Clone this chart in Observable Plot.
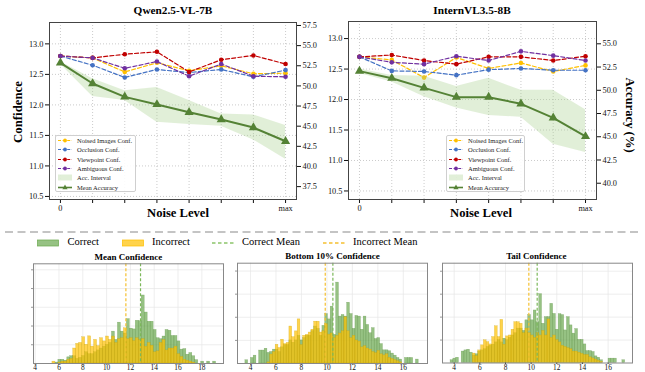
<!DOCTYPE html>
<html><head><meta charset="utf-8">
<script src="https://cdn.jsdelivr.net/npm/d3@7"></script>
<script src="https://cdn.jsdelivr.net/npm/@observablehq/plot@0.6"></script>
<style>
body{margin:0;background:#fff;}
#root{position:relative;width:645px;height:372px;overflow:hidden;font-family:"Liberation Serif","Times New Roman",serif;}
.lbl{position:absolute;white-space:nowrap;line-height:1;color:#000;font-family:"Liberation Serif","Times New Roman",serif;}
.legend{position:absolute;background:rgba(255,255,255,0.9);border:1px solid #cfcfcf;border-radius:2px;box-sizing:border-box;font-family:"Liberation Serif",serif;font-size:6.5px;color:#222;}
.legend .row{position:absolute;left:0;height:9px;display:flex;align-items:center;white-space:nowrap;}
.legend span{white-space:nowrap;}
.legend svg{display:block;flex:none;}
</style></head><body><div id="root"></div>
<script>
// ---------- data: top line charts ----------
const noiseLevels = [0, 1, 2, 3, 4, 5, 6, 7];
const noiseTickLabels = ["0", "", "", "", "", "", "", "max"];
const seriesNames = ["Noised Images Conf.", "Occlusion Conf.", "Viewpoint Conf.", "Ambiguous Conf."];

const qwenNoised    = [12.80, 12.77, 12.54, 12.69, 12.56, 12.64, 12.51, 12.52];
const qwenOcclusion = [12.80, 12.65, 12.45, 12.58, 12.53, 12.58, 12.46, 12.57];
const qwenViewpoint = [12.80, 12.77, 12.83, 12.87, 12.54, 12.74, 12.81, 12.67];
const qwenAmbiguous = [12.80, 12.77, 12.60, 12.71, 12.47, 12.67, 12.47, 12.46];
const qwenAcc       = [52.86, 50.30, 48.64, 47.70, 46.73, 45.82, 44.83, 43.13];
const qwenAccLow    = [52.70, 48.70, 48.20, 45.50, 45.20, 45.00, 43.30, 40.90];
const qwenAccHigh   = [53.00, 50.90, 49.40, 49.80, 48.20, 46.50, 46.40, 45.10];

const internNoised    = [12.70, 12.65, 12.36, 12.69, 12.51, 12.60, 12.46, 12.56];
const internOcclusion = [12.70, 12.47, 12.46, 12.40, 12.49, 12.51, 12.48, 12.48];
const internViewpoint = [12.70, 12.73, 12.64, 12.58, 12.70, 12.70, 12.64, 12.71];
const internAmbiguous = [12.70, 12.61, 12.58, 12.71, 12.64, 12.79, 12.72, 12.64];
const internAcc       = [52.06, 51.30, 50.26, 49.26, 49.26, 48.54, 47.03, 45.03];
const internAccLow    = [51.80, 50.90, 49.30, 48.10, 47.30, 47.10, 44.20, 43.30];
const internAccHigh   = [52.30, 51.60, 51.50, 50.40, 51.30, 50.00, 50.00, 47.90];

const qwenConfTicks = [10.5, 11.0, 11.5, 12.0, 12.5, 13.0];
const qwenAccTicks = [37.5, 40.0, 42.5, 45.0, 47.5, 50.0, 52.5, 55.0, 57.5];
const internConfTicks = [10.5, 11.0, 11.5, 12.0, 12.5, 13.0];
const internAccTicks = [40.0, 42.5, 45.0, 47.5, 50.0, 52.5, 55.0];

// ---------- data: histograms (bin counts, relative units) ----------
const meanBinStart = 5.45, meanBinWidth = 0.25;
const meanCorrect = [0,0.5,2,2,1.5,3.3,3.9,3.9,2.5,3,4,6,5,5,6,7,8,9,10,11,17,12.6,21.8,17,16,23.7,18.6,18.2,22.8,22.6,36.3,27.2,22.3,22.3,17.9,13.5,13,14.4,17.9,17.5,14.7,14.7,11.8,7.4,7.7,4.7,5.6,3.9,1.8,0,1,0,1,0,1,0];
const meanIncorrect = [1,0,0.5,1,1,2,2.5,8,10.5,11,14,10,14.5,9,12.6,9.3,13.5,11.8,14.4,12.6,14.4,11,13,13.5,18.8,13,13.5,12,13.5,12.5,13,9,11,9.5,6,6.5,11,12.5,7,8,8,9,5,3.5,2,1.5,1,0.5,0,0,0,0,0,0,0,0];
const meanCorrectMean = 12.85, meanIncorrectMean = 11.62;

const bottomBinStart = 3.6, bottomBinWidth = 0.216;
const bottomCorrect = [1.4,0,2.4,3.4,0,5.6,5.6,6.4,4.6,5,6,6,5,7,8,8,10,9,10,12,10,11,12,12,14,16,15,12,16.3,21.4,19.1,24.6,12.4,35,20.3,21,20.3,26.3,21.4,15,20.6,20.3,14.6,20.3,16.7,13.1,15.3,10.6,11,8.4,5.7,5.7,5.3,4.3,3.4,2.4,1.7,0,2.4,2.4,2.4,0,1.7];
const bottomIncorrect = [0,0,0,0,0,0,0,0,0.5,3.9,5,8.1,6.7,10.3,8.4,8.9,16,11.4,13.9,19.1,8,12,12.4,13.4,14.6,18.1,18.1,13.4,14,17,12.5,13,11,12,13,14,20,14,11,12,10,9.5,7,7.5,6.5,6,5,4.5,5.5,4,3.5,4,2.5,2,1.5,1,0.5,0,0,0,0,0,0];
const bottomCorrectMean = 10.47, bottomIncorrectMean = 9.87;

const tailBinStart = 3.72, tailBinWidth = 0.216;
const tailCorrect = [1.2,1.9,2.3,0,5,5.5,5.8,4.5,3.3,3.8,5,5.5,6,7,7.5,8,9,10,9,10.6,10,11,12,13,15,15,14,18.6,20.9,18.6,22.9,17.8,30,17.1,20,20,25.8,21.4,14.5,21.3,20.9,14.2,20,16.4,12.8,14.8,10.1,10.1,8.1,5.2,5.2,4.8,2.9,2.3,1.2,0,0,1.9,1.9,1.9,0,0,1.2];
const tailIncorrect = [0,0,0,0,0,0,0,0,4.1,3,5.5,7.7,9.9,9.1,8.1,11.3,16,11.3,18.8,8,11.6,12,14.5,17.8,17.8,17.1,13,15,13,12,11,13,12,14,12,19,11,12,10,9,7.5,7,6.5,6,5,5,4.5,4,3.5,3.5,2.5,2,1.5,1,0.5,0,0,0,0,0,0,0,0];
const tailCorrectMean = 10.47, tailIncorrectMean = 9.82;

// ---------- colors ----------
const cNoised = "#FFC000", cOcc = "#4472C4", cView = "#C00000", cAmb = "#7030A0";
const cAcc = "#548235", cBand = "#a9d18e";
const cGreen = "#6aa84f", cYellow = "#ffc000";
const FONT = "'Liberation Serif','Times New Roman',serif";

const root = document.getElementById("root");
function put(el, left, top) {
  el.style.position = "absolute"; el.style.left = left + "px"; el.style.top = top + "px";
  root.appendChild(el); return el;
}
function label(text, cx, cy, size, weight, rot = 0) {
  const d = document.createElement("div");
  d.className = "lbl"; d.textContent = text;
  d.style.fontSize = size + "px"; d.style.fontWeight = weight;
  d.style.left = cx + "px"; d.style.top = cy + "px";
  d.style.transform = `translate(-50%,-50%) rotate(${rot}deg)`;
  root.appendChild(d);
}

function topPanel(cfg) {
  const {svgLeft, W, H, mt, mb, ml, mr, confDomain, confTicks, accDomain, accTicks, conf, acc, low, high} = cfg;
  const base = {
    width: W, height: H, marginTop: mt, marginBottom: mb, marginLeft: ml, marginRight: mr,
    x: {domain: [-0.34, 7.34]},
    style: {fontFamily: FONT, fontSize: "8.3px", background: "transparent", overflow: "visible", color: "#111"}
  };
  const colors = [cNoised, cOcc, cView, cAmb];
  const confMarks = [
    Plot.gridX(noiseLevels, {stroke: "#b5b5b5", strokeOpacity: 1, strokeWidth: 0.7, strokeDasharray: "1,2"}),
    Plot.gridY(confTicks, {stroke: "#b5b5b5", strokeOpacity: 1, strokeWidth: 0.7, strokeDasharray: "1,2"})
  ];
  conf.forEach((vals, k) => {
    confMarks.push(Plot.line(noiseLevels, {x: d => d, y: (d, i) => vals[i], stroke: colors[k], strokeWidth: 1.2, strokeDasharray: "4,2.2"}));
    confMarks.push(Plot.dot(noiseLevels, {x: d => d, y: (d, i) => vals[i], r: 2.3, fill: colors[k], stroke: "none"}));
  });
  confMarks.push(
    Plot.axisX(noiseLevels, {tickSize: 4, tickPadding: 2, tickFormat: d => noiseTickLabels[noiseLevels.indexOf(d)], label: null}),
    Plot.axisY(confTicks, {anchor: "left", tickSize: 4, tickPadding: 2, tickFormat: d => d.toFixed(1), label: null}),
    Plot.frame({stroke: "#444", strokeWidth: 1})
  );
  const confSvg = Plot.plot({...base, y: {domain: confDomain}, marks: confMarks});
  put(confSvg, svgLeft, 0);

  const accSvg = Plot.plot({
    ...base, x: {domain: [-0.34, 7.34], axis: null}, y: {domain: accDomain},
    marks: [
      Plot.areaY(noiseLevels, {x: d => d, y1: (d, i) => low[i], y2: (d, i) => high[i], fill: cBand, fillOpacity: 0.35}),
      Plot.line(noiseLevels, {x: d => d, y: (d, i) => acc[i], stroke: cAcc, strokeWidth: 2}),
      Plot.dot(noiseLevels, {x: d => d, y: (d, i) => acc[i], symbol: "triangle", r: 3.4, fill: cAcc, stroke: "none"}),
      Plot.axisY(accTicks, {anchor: "right", tickSize: 4, tickPadding: 2, tickFormat: d => d.toFixed(1), label: null})
    ]
  });
  put(accSvg, svgLeft, 0);
}

function topLegend(left, top, width) {
  const box = document.createElement("div");
  box.className = "legend";
  box.style.width = width + "px"; box.style.height = "57px";
  const colors = [cNoised, cOcc, cView, cAmb];
  const names = [...seriesNames, "Acc. Interval", "Mean Accuracy"];
  names.forEach((name, k) => {
    const row = document.createElement("div");
    row.className = "row";
    row.style.top = (0 + k * 9.35) + "px";
    let sw;
    if (k < 4) {
      sw = `<svg width="21" height="9"><line x1="2" x2="16" y1="4.5" y2="4.5" stroke="${colors[k]}" stroke-width="1.1" stroke-dasharray="3,1.6"/><circle cx="9" cy="4.5" r="1.9" fill="${colors[k]}"/></svg>`;
    } else if (k === 4) {
      sw = `<svg width="21" height="9"><rect x="2" y="1.5" width="14" height="6" fill="${cBand}" fill-opacity="0.35"/></svg>`;
    } else {
      sw = `<svg width="21" height="9"><line x1="2" x2="16" y1="4.5" y2="4.5" stroke="${cAcc}" stroke-width="1.6"/><path d="M9,1.6 L11.6,6.2 L6.4,6.2 Z" fill="${cAcc}"/></svg>`;
    }
    row.innerHTML = sw + `<span>${name}</span>`;
    box.appendChild(row);
  });
  put(box, left, top);
}

// ---------- top panels ----------
topPanel({
  svgLeft: 0, W: 330, H: 225, mt: 22, mb: 26, ml: 49, mr: 34,
  confDomain: [10.45, 13.35], confTicks: qwenConfTicks,
  accDomain: [35.9, 57.87], accTicks: qwenAccTicks,
  conf: [qwenNoised, qwenOcclusion, qwenViewpoint, qwenAmbiguous],
  acc: qwenAcc, low: qwenAccLow, high: qwenAccHigh
});
topPanel({
  svgLeft: 300, W: 345, H: 225, mt: 21, mb: 26, ml: 48, mr: 49,
  confDomain: [10.36, 13.28], confTicks: internConfTicks,
  accDomain: [38.25, 57.4], accTicks: internAccTicks,
  conf: [internNoised, internOcclusion, internViewpoint, internAmbiguous],
  acc: internAcc, low: internAccLow, high: internAccHigh
});
topLegend(55, 135, 81);
topLegend(446, 135, 79);

label("Qwen2.5-VL-7B", 173, 11, 11.3, "bold");
label("InternVL3.5-8B", 472, 10.5, 11.3, "bold");
label("Noise Level", 178, 213, 12.6, "bold");
label("Noise Level", 481, 213, 12.6, "bold");
label("Confidence", 18, 112, 12.8, "bold", -90);
label("Accuracy (%)", 630, 115, 12.6, "bold", 90);

// ---------- separator ----------
const sep = document.createElementNS("http://www.w3.org/2000/svg", "svg");
sep.setAttribute("width", "645"); sep.setAttribute("height", "4");
sep.innerHTML = `<line x1="5" x2="641" y1="2" y2="2" stroke="#8a8a8a" stroke-width="1.2" stroke-dasharray="8,4.5"/>`;
put(sep, 0, 230);

// ---------- bottom legend ----------
function legItem(kind, color, x0, text, tx) {
  const s = document.createElementNS("http://www.w3.org/2000/svg", "svg");
  s.setAttribute("width", "24"); s.setAttribute("height", "10");
  if (kind === "box") {
    s.innerHTML = `<rect x="0.5" y="2" width="21" height="6" fill="${color}" fill-opacity="0.7" stroke="${color}" stroke-opacity="0.9" stroke-width="0.8"/>`;
  } else {
    s.innerHTML = `<line x1="0" x2="22" y1="5" y2="5" stroke="${color}" stroke-width="1.3" stroke-dasharray="3.5,2.5"/>`;
  }
  put(s, x0, 237.5);
  const t = document.createElement("div");
  t.className = "lbl"; t.textContent = text; t.style.fontSize = "10.5px";
  put(t, tx, 237);
}
legItem("box", cGreen, 37, "Correct", 67.5);
legItem("box", cYellow, 121.5, "Incorrect", 152);
legItem("line", "#8cc56b", 211.5, "Correct Mean", 242);
legItem("line", "#f5c030", 323, "Incorrect Mean", 353);

// ---------- histograms ----------
function hist(cfg) {
  const {frameLeft, mt, mb, start, width, correct, incorrect, xDomain, yDomain, xTicks, yTicks, meanC, meanI} = cfg;
  const bins = correct.map((g, i) => ({x1: start + i * width, x2: start + (i + 1) * width, c: g, w: incorrect[i]}));
  const svg = Plot.plot({
    width: 204, height: 122, marginLeft: 7, marginRight: 7, marginTop: mt, marginBottom: mb,
    x: {domain: xDomain}, y: {domain: yDomain},
    style: {fontFamily: FONT, fontSize: "7.4px", background: "transparent", overflow: "visible", color: "#111"},
    marks: [
      Plot.gridX(xTicks, {stroke: "#e6e6e6", strokeOpacity: 1, strokeWidth: 0.7}),
      Plot.gridY(yTicks, {stroke: "#e6e6e6", strokeOpacity: 1, strokeWidth: 0.7}),
      Plot.rectY(bins, {x1: "x1", x2: "x2", y: "c", fill: cGreen, fillOpacity: 0.7, stroke: "#5b8f42", strokeOpacity: 0.6, strokeWidth: 0.4}),
      Plot.rectY(bins, {x1: "x1", x2: "x2", y: "w", fill: cYellow, fillOpacity: 0.7, stroke: "#c9a200", strokeOpacity: 0.6, strokeWidth: 0.4}),
      Plot.ruleX([meanC], {stroke: "#7cb85a", strokeWidth: 1.2, strokeDasharray: "3,2"}),
      Plot.ruleX([meanI], {stroke: "#f5c030", strokeWidth: 1.2, strokeDasharray: "3,2"}),
      Plot.axisX(xTicks, {tickSize: 1.5, tickPadding: 0, tickFormat: d => String(d), label: null}),
      Plot.axisY(yTicks, {anchor: "left", tickSize: 2, tickFormat: () => "", label: null, stroke: "#999"}),
      Plot.frame({stroke: "#888", strokeWidth: 1})
    ]
  });
  put(svg, frameLeft - 7, 250);
}
hist({frameLeft: 33.3, mt: 13.3, mb: 9, start: meanBinStart, width: meanBinWidth,
  correct: meanCorrect, incorrect: meanIncorrect, xDomain: [3.86, 19.82], yDomain: [0, 53.2],
  xTicks: [4, 6, 8, 10, 12, 14, 16, 18], yTicks: [10, 20, 30, 40, 50],
  meanC: meanCorrectMean, meanI: meanIncorrectMean});
hist({frameLeft: 237, mt: 12.7, mb: 9, start: bottomBinStart, width: bottomBinWidth,
  correct: bottomCorrect, incorrect: bottomIncorrect, xDomain: [2.98, 17.9], yDomain: [0, 43.4],
  xTicks: [4, 6, 8, 10, 12, 14, 16], yTicks: [10, 20, 30, 40],
  meanC: bottomCorrectMean, meanI: bottomIncorrectMean});
hist({frameLeft: 441.7, mt: 12.7, mb: 9.5, start: tailBinStart, width: tailBinWidth,
  correct: tailCorrect, incorrect: tailIncorrect, xDomain: [3.09, 17.9], yDomain: [0, 43.5],
  xTicks: [4, 6, 8, 10, 12, 14, 16], yTicks: [10, 20, 30, 40],
  meanC: tailCorrectMean, meanI: tailIncorrectMean});

label("Mean Confidence", 128.3, 256.5, 9, "bold");
label("Bottom 10% Confidence", 332.4, 256, 9, "bold");
label("Tail Confidence", 536.4, 255.5, 9, "bold");
</script></body></html>
